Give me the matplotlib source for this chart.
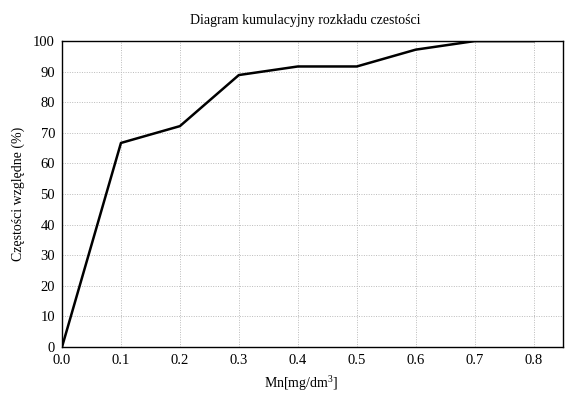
import matplotlib.pyplot as plt

# Cumulative frequency of Mn concentration
mn_values = [0.0, 0.1, 0.2, 0.3, 0.4, 0.5, 0.6, 0.7, 0.8]
cum_percent = [0.0, 66.7, 72.2, 88.9, 91.7, 91.7, 97.2, 100.0, 100.0]
x_ticks = [0.0, 0.1, 0.2, 0.3, 0.4, 0.5, 0.6, 0.7, 0.8]
y_ticks = list(range(0, 101, 10))

plt.rcParams['font.family'] = ['Liberation Serif', 'DejaVu Serif']
plt.rcParams['mathtext.fontset'] = 'custom'
plt.rcParams['mathtext.rm'] = 'Liberation Serif'

fig = plt.figure(figsize=(5.74, 3.95), dpi=100)
ax = fig.add_axes([0.108, 0.1215, 0.873, 0.7745])

ax.plot(mn_values, cum_percent, color='black', linewidth=1.8)

ax.set_xlim(0, 0.85)
ax.set_ylim(0, 100)
ax.set_xticks(x_ticks)
ax.set_xticklabels([f"{v:.1f}" for v in x_ticks])
ax.set_yticks(y_ticks)
ax.grid(True, linestyle=(0, (1, 1.5)), color='#bbbbbb', linewidth=0.7)
ax.tick_params(length=0, labelsize=10.5, pad=5)

for spine in ax.spines.values():
    spine.set_linewidth(1.0)

fig.text(0.531, 0.948, "Diagram kumulacyjny rozkładu czestości",
         fontsize=10, ha='center', va='center')
fig.text(0.524, 0.028, "Mn[mg/dm$\\mathrm{^3}$]", fontsize=10,
         ha='center', va='center')
ax.set_ylabel("Częstości względne (%)", fontsize=10, labelpad=6)

fig.savefig("out.png", dpi=100)
